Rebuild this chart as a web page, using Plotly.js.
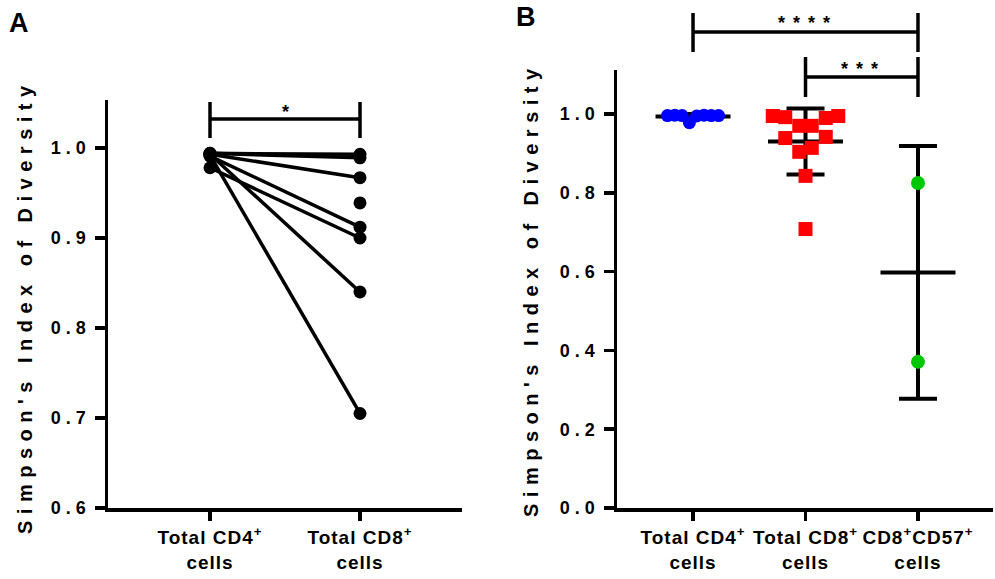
<!DOCTYPE html>
<html>
<head>
<meta charset="utf-8">
<script src="https://cdn.plot.ly/plotly-3.0.1.min.js"></script>
<style>
  html, body { margin: 0; padding: 0; background: #fff; }
  #chart { width: 995px; height: 579px; }
  .ytick text, .y2tick text { letter-spacing: 5px; }
  .xtick text, .x2tick text { letter-spacing: 1px; }
  g.annotation[data-index="0"] text, g.annotation[data-index="1"] text { letter-spacing: 6.5px; }
  g.annotation[data-index="5"] text, g.annotation[data-index="6"] text { letter-spacing: 8px; }
</style>
</head>
<body>
<div id="chart"></div>
<script>
// ---------------- DATA ----------------
const categoriesA = ['Total CD4<sup>+</sup><br>cells', 'Total CD8<sup>+</sup><br>cells'];
const categoriesB = ['Total CD4<sup>+</sup><br>cells', 'Total CD8<sup>+</sup><br>cells', 'CD8<sup>+</sup>CD57<sup>+</sup><br>cells'];

// Panel A: paired values (CD4 -> CD8), null = no paired CD4 value
const pairedCD4 = [0.994, 0.994, 0.993, 0.991, 0.978, 0.993, 0.992, null];
const pairedCD8 = [0.993, 0.989, 0.967, 0.912, 0.900, 0.840, 0.705, 0.939];

// Panel B: individual values per group
const cd4B  = [0.996, 0.997, 0.996, 0.978, 0.995, 0.997, 0.996, 0.996];
const cd8B  = [0.995, 0.992, 0.970, 0.970, 0.990, 0.995, 0.939, 0.942, 0.904, 0.914, 0.843, 0.708];
const cd57B = [0.825, 0.371];

const yTickValsA = [0.6, 0.7, 0.8, 0.9, 1.0];
const yTickTextA = ['0.6', '0.7', '0.8', '0.9', '1.0'];
const yTickValsB = [0.0, 0.2, 0.4, 0.6, 0.8, 1.0];
const yTickTextB = ['0.0', '0.2', '0.4', '0.6', '0.8', '1.0'];

const yTitle = "Simpson's Index of Diversity";
const sigA = ['*'];
const sigB = ['****', '***'];

// ---------------- GEOMETRY ----------------
const W = 995, H = 579;
const A_px = {x0: 108, x1: 462, y0: 100, y1: 508};
const B_px = {x0: 617, x1: 993, y0: 70, y1: 508};
const xRangeA = [0.32, 2.68], yRangeA = [0.6, 1.0533];
const xRangeB = [0.324, 3.667], yRangeB = [0, 1.1117];
const pyToPaper = py => (H - py) / H;
const pxToPaper = px => px / W;

const pxPerX_B = (B_px.x1 - B_px.x0) / (xRangeB[1] - xRangeB[0]);
const pxPerY_B = (B_px.y1 - B_px.y0) / (yRangeB[1] - yRangeB[0]);

// Row-based dot spreading (scatter-dot-plot style)
function spread(vals, spacing, minDist, rowH, square) {
  const idx = vals.map((v, i) => i).sort((a, b) => vals[a] - vals[b]);
  const rows = [];
  let cur = [];
  idx.forEach(i => {
    if (cur.length && (vals[i] - vals[cur[0]]) * pxPerY_B > rowH) { rows.push(cur); cur = []; }
    cur.push(i);
  });
  if (cur.length) rows.push(cur);
  const placed = [];
  const off = new Array(vals.length).fill(0);
  const clear = (dx, dy) => square ? Math.max(Math.abs(dx), Math.abs(dy)) >= minDist
                                   : dx * dx + dy * dy >= minDist * minDist;
  rows.forEach(row => {
    row.sort((a, b) => a - b);
    const n = row.length;
    const base = row.map((_, j) => (j - (n - 1) / 2) * spacing);
    let e = 0;
    for (let it = 0; it < 400; it++) {
      const cand = base.map(b => b === 0 ? 0 : b + Math.sign(b) * e);
      const ok = row.every((i, j) => placed.every(p => clear(cand[j] - p.x, (vals[i] - p.v) * pxPerY_B)));
      if (ok) { row.forEach((i, j) => { off[i] = cand[j]; placed.push({x: cand[j], v: vals[i]}); }); return; }
      e += 0.5;
    }
    row.forEach((i, j) => { off[i] = base[j]; placed.push({x: base[j], v: vals[i]}); });
  });
  return off.map(o => o / pxPerX_B);
}

const mean = a => a.reduce((s, v) => s + v, 0) / a.length;
const sd = a => { const m = mean(a); return Math.sqrt(a.reduce((s, v) => s + (v - m) * (v - m), 0) / (a.length - 1)); };

// ---------------- TRACES ----------------
const traces = [];

// Panel A paired lines
const lx = [], ly = [];
pairedCD4.forEach((v, i) => {
  if (v !== null) { lx.push(1, 2, null); ly.push(v, pairedCD8[i], null); }
});
traces.push({type: 'scatter', mode: 'lines', x: lx, y: ly, xaxis: 'x', yaxis: 'y',
  line: {color: '#000', width: 3.5}, hoverinfo: 'skip', showlegend: false});
// Panel A points
const ax = [], ay = [];
pairedCD4.forEach(v => { if (v !== null) { ax.push(1); ay.push(v); } });
pairedCD8.forEach(v => { ax.push(2); ay.push(v); });
traces.push({type: 'scatter', mode: 'markers', x: ax, y: ay, xaxis: 'x', yaxis: 'y',
  marker: {color: '#000', size: 13, symbol: 'circle'}, showlegend: false});

// Panel B mean + SD
const groupsB = [cd4B, cd8B, cd57B];
const halfMean = 37.5 / pxPerX_B;
groupsB.forEach((g, k) => {
  const c = k + 1, m = mean(g);
  traces.push({type: 'scatter', mode: 'lines', x: [c - halfMean, c + halfMean], y: [m, m],
    xaxis: 'x2', yaxis: 'y2', line: {color: '#000', width: 4}, hoverinfo: 'skip', showlegend: false});
  traces.push({type: 'scatter', mode: 'markers', x: [c], y: [m], xaxis: 'x2', yaxis: 'y2',
    marker: {size: 1, color: '#000'}, showlegend: false,
    error_y: {type: 'data', array: [sd(g)], color: '#000', thickness: 4, width: 19}});
});

// Panel B points
const offCD4 = spread(cd4B, 7.3, 6, 8, false);
const offCD8 = spread(cd8B, 12.5, 14, 6, true);
const offCD57 = spread(cd57B, 12, 13, 6, false);
traces.push({type: 'scatter', mode: 'markers', x: cd4B.map((v, i) => 1 + offCD4[i]), y: cd4B,
  xaxis: 'x2', yaxis: 'y2', marker: {color: '#0000FF', size: 13, symbol: 'circle'}, showlegend: false});
traces.push({type: 'scatter', mode: 'markers', x: cd8B.map((v, i) => 2 + offCD8[i]), y: cd8B,
  xaxis: 'x2', yaxis: 'y2', marker: {color: '#FF0000', size: 14, symbol: 'square'}, showlegend: false});
traces.push({type: 'scatter', mode: 'markers', x: cd57B.map((v, i) => 3 + offCD57[i]), y: cd57B,
  xaxis: 'x2', yaxis: 'y2', marker: {color: '#00C800', size: 14, symbol: 'circle'}, showlegend: false});

// ---------------- LAYOUT ----------------
const FONT = 'Liberation Sans, Arial, Helvetica, sans-serif';
const tickFont = {family: FONT, size: 18, color: '#000', weight: 700};
const xTickFont = {family: FONT, size: 19, color: '#000', weight: 700};

function yAxis(domain, range, vals, text) {
  return {domain: domain, range: range, tickvals: vals, ticktext: text, showgrid: false, zeroline: false,
    showline: true, linecolor: '#000', linewidth: 3.5, ticks: 'outside', ticklen: 10, tickwidth: 3.5,
    tickcolor: '#000', tickfont: tickFont, fixedrange: true};
}
function xAxis(domain, range, cats, anchor) {
  return {domain: domain, range: range, anchor: anchor, tickvals: cats.map((c, i) => i + 1), ticktext: cats,
    showgrid: false, zeroline: false, showline: true, linecolor: '#000', linewidth: 3.5, ticks: 'outside',
    ticklen: 9, tickwidth: 3.5, tickcolor: '#000', tickfont: xTickFont, ticklabelstandoff: 1, fixedrange: true};
}

const shapes = [];
const lineStyle = {color: '#000', width: 3.5};
// Panel A bracket
shapes.push({type: 'line', xref: 'x', yref: 'y', x0: 1, x1: 2, y0: 1.0322, y1: 1.0322, line: lineStyle});
shapes.push({type: 'line', xref: 'x', yref: 'y', x0: 1, x1: 1, y0: 1.0111, y1: 1.0511, line: lineStyle});
shapes.push({type: 'line', xref: 'x', yref: 'y', x0: 2, x1: 2, y0: 1.0111, y1: 1.0511, line: lineStyle});
// Panel B brackets
const brackets = [{a: 1, b: 3, line: 32, top: 13, bot: 52}, {a: 2, b: 3, line: 77, top: 57, bot: 97}];
brackets.forEach(br => {
  shapes.push({type: 'line', xref: 'x2', yref: 'paper', x0: br.a, x1: br.b, y0: pyToPaper(br.line), y1: pyToPaper(br.line), line: lineStyle});
  shapes.push({type: 'line', xref: 'x2', yref: 'paper', x0: br.a, x1: br.a, y0: pyToPaper(br.top), y1: pyToPaper(br.bot), line: lineStyle});
  shapes.push({type: 'line', xref: 'x2', yref: 'paper', x0: br.b, x1: br.b, y0: pyToPaper(br.top), y1: pyToPaper(br.bot), line: lineStyle});
});

const annFont = (s) => ({family: FONT, size: s, color: '#000', weight: 700});
const annotations = [
  {text: yTitle, xref: 'paper', yref: 'paper', x: pxToPaper(25), y: pyToPaper(307), textangle: -90,
   showarrow: false, xanchor: 'center', yanchor: 'middle', font: annFont(20)},
  {text: yTitle, xref: 'paper', yref: 'paper', x: pxToPaper(531), y: pyToPaper(290), textangle: -90,
   showarrow: false, xanchor: 'center', yanchor: 'middle', font: annFont(20)},
  {text: 'A', xref: 'paper', yref: 'paper', x: pxToPaper(19), y: pyToPaper(23), showarrow: false,
   xanchor: 'center', yanchor: 'middle', font: annFont(27)},
  {text: 'B', xref: 'paper', yref: 'paper', x: pxToPaper(526), y: pyToPaper(17), showarrow: false,
   xanchor: 'center', yanchor: 'middle', font: annFont(27)},
  {text: sigA[0], xref: 'x', yref: 'y', x: 1.5, y: 1.040, showarrow: false, xanchor: 'center', yanchor: 'middle', font: annFont(18)},
  {text: sigB[0], xref: 'x2', yref: 'paper', x: 2.02, y: pyToPaper(23), showarrow: false, xanchor: 'center', yanchor: 'middle', font: annFont(18)},
  {text: sigB[1], xref: 'x2', yref: 'paper', x: 2.52, y: pyToPaper(69), showarrow: false, xanchor: 'center', yanchor: 'middle', font: annFont(18)}
];

const layout = {
  width: W, height: H, margin: {l: 0, r: 0, t: 0, b: 0}, paper_bgcolor: '#fff', plot_bgcolor: 'rgba(0,0,0,0)',
  showlegend: false, font: {family: FONT, color: '#000'},
  xaxis: xAxis([A_px.x0 / W, A_px.x1 / W], xRangeA, categoriesA, 'y'),
  yaxis: yAxis([pyToPaper(A_px.y1), pyToPaper(A_px.y0)], yRangeA, yTickValsA, yTickTextA),
  xaxis2: xAxis([B_px.x0 / W, B_px.x1 / W], xRangeB, categoriesB, 'y2'),
  yaxis2: Object.assign(yAxis([pyToPaper(B_px.y1), pyToPaper(B_px.y0)], yRangeB, yTickValsB, yTickTextB), {anchor: 'x2'}),
  shapes: shapes, annotations: annotations
};
layout.yaxis.anchor = 'x';

Plotly.newPlot('chart', traces, layout, {displayModeBar: false, staticPlot: true});
</script>
</body>
</html>
